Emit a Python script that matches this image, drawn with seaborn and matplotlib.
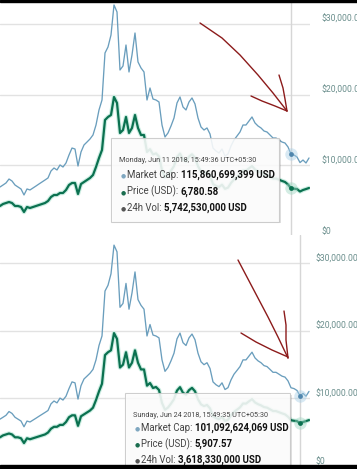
import pandas as pd
import matplotlib
matplotlib.use("Agg")
import matplotlib.pyplot as plt
import matplotlib.patheffects as pe
from matplotlib.patches import Rectangle
from matplotlib.lines import Line2D
import seaborn as sns

# data (same series, 3-day steps)
dates = pd.date_range("2017-08-24", periods=104, freq="3D")

market_cap_bn = [
    69.4, 72.2, 75.1, 80.7, 77.9, 72.2, 69.4, 66.6, 58.1, 66.6,
    65.2, 68.0, 70.8, 73.7, 76.5, 79.3, 82.2, 92.1, 96.3, 93.5,
    100.6, 97.7, 103.4, 114.7, 124.6, 123.2, 99.1, 119.0, 128.9, 133.1,
    137.4, 143.1, 157.2, 178.5, 192.6, 259.2, 267.7, 284.7, 327.2, 317.3,
    235.1, 240.8, 270.5, 232.3, 256.4, 287.5, 246.5, 238.0, 232.3, 192.6,
    209.6, 194.0, 192.6, 189.8, 157.2, 140.2, 145.9, 155.8, 167.1, 188.4,
    196.9, 182.7, 178.5, 189.8, 195.5, 187.0, 167.1, 154.4, 150.1, 153.0,
    144.5, 124.6, 120.4, 117.6, 123.2, 113.3, 116.1, 127.5, 136.0, 141.6,
    147.3, 157.2, 157.2, 162.9, 168.6, 160.1, 155.8, 153.0, 148.7, 147.3,
    143.1, 138.8, 138.8, 136.0, 133.1, 131.7, 126.1, 115.9, 114.7, 111.9,
    104.0, 107.6, 103.4, 110.5,
]

price_usd = [
    4249, 4532, 4674, 4816, 4674, 4249, 4249, 4107, 3399, 4107,
    3966, 4107, 4249, 4391, 4532, 4674, 4957, 5524, 5807, 5807,
    6091, 6091, 6515, 7224, 7507, 7507, 5949, 7365, 7649, 7932,
    8215, 8640, 9773, 11048, 12181, 16430, 16855, 17138, 19688, 18838,
    14589, 15014, 16855, 14589, 15297, 17138, 15297, 14305, 14305, 11900,
    12296, 11556, 11704, 11259, 9338, 8328, 8666, 9239, 9909, 11172,
    11676, 10834, 10567, 11236, 11574, 11070, 9892, 9125, 8871, 9042,
    8540, 7364, 7104, 6938, 7269, 6685, 6850, 7510, 8010, 8340,
    8676, 9259, 9243, 9579, 9914, 9414, 9161, 8981, 8729, 8647,
    8400, 8148, 8134, 7970, 7800, 7649, 7300, 6781, 6700, 6650,
    6300, 6515, 6650, 6800,
]

y_ticks = [0, 10000, 20000, 30000]
y_tick_labels = ["$0", "$10,000.00", "$20,000.00", "$30,000.00"]

tooltips = [
    {"idx": 97, "header": "Monday, Jun 11 2018, 15:49:36 UTC+05:30",
     "cap": "115,860,699,399 USD", "price": "6,780.58", "vol": "5,742,530,000 USD"},
    {"idx": 100, "header": "Sunday, Jun 24 2018, 15:49:35 UTC+05:30",
     "cap": "101,092,624,069 USD", "price": "5,907.57", "vol": "3,618,330,000 USD"},
]

df = pd.DataFrame({"date": dates, "market_cap": market_cap_bn, "price": price_usd})

sns.set_style("white")
plt.rcParams['font.family'] = ['Roboto', 'DejaVu Sans']

W, H = 357, 469
def fx(x):
    return x / W
def fy(y):
    return 1 - y / H

CAP_COLOR = "#6a9ebd"
PRICE_COLOR = "#0b7150"
LABEL_COLOR = "#6b8f8d"

fig = plt.figure(figsize=(W / 100, H / 100), dpi=100)

# panel layout in pixels: (top, bottom, ymax, label pad, tooltip box, text rows)
panels = [
    dict(top=2, bottom=236, ymax=33140, pad=8.6,
         box=(111, 138, 279, 222), hx=119, hy=162.5, bx=121, tx=127, rows=(177.5, 194.5, 210.5)),
    dict(top=235, bottom=466, ymax=34220, pad=4.3,
         box=(125, 393, 290, 485), hx=133, hy=417, bx=135, tx=141, rows=(430.5, 447, 463)),
]

texts_to_place = []
for p, tip in zip(panels, tooltips):
    ax = fig.add_axes([0, fy(p["bottom"]), 310 / W, (p["bottom"] - p["top"]) / H])
    ax2 = ax.twinx()

    sns.lineplot(data=df, x="date", y="price", ax=ax, color=PRICE_COLOR, lw=1.6,
                 path_effects=[pe.Stroke(linewidth=3.2, foreground="#cdeee3"), pe.Normal()])
    sns.lineplot(data=df, x="date", y="market_cap", ax=ax2, color=CAP_COLOR, lw=0.95)

    ax.set_xlim(dates[0], dates[0] + pd.Timedelta(days=310))
    ax.set_ylim(0, p["ymax"])
    ax2.set_ylim(0, p["ymax"] / 100)

    for t in y_ticks[1:]:
        ax.axhline(t, color="#e2e2e2", lw=1, zorder=0)

    i = tip["idx"]
    ax.axvline(dates[i], color="#d6d6d6", lw=1, zorder=0)
    ax.scatter([dates[i]], [price_usd[i]], s=80, color="#9fd6c2", alpha=0.45, lw=0, zorder=4)
    ax.scatter([dates[i]], [price_usd[i]], s=12, color=PRICE_COLOR, lw=0, zorder=5)
    ax2.scatter([dates[i]], [market_cap_bn[i]], s=80, color="#a9cfe6", alpha=0.45, lw=0, zorder=4)
    ax2.scatter([dates[i]], [market_cap_bn[i]], s=12, color="#4f86ad", lw=0, zorder=5)

    ax.set_xticks([])
    ax.set_xlabel("")
    ax.set_ylabel("")
    ax.set_yticks(y_ticks)
    ax.set_yticklabels(y_tick_labels)
    ax.yaxis.tick_right()
    ax.tick_params(axis="y", length=0, pad=p["pad"], labelsize=6.2, labelcolor=LABEL_COLOR)
    for lbl in ax.get_yticklabels():
        lbl.set_va("bottom")
    ax2.axis("off")
    sns.despine(ax=ax, left=True, bottom=True, right=True, top=True)

    # tooltip box
    x0, y0, x1, y1 = p["box"]
    fig.add_artist(Rectangle((fx(x0 + 1.5), fy(y1 + 1.5)), (x1 - x0) / W, (y1 - y0) / H,
                             transform=fig.transFigure, facecolor="#000000", alpha=0.12,
                             lw=0, zorder=9))
    fig.add_artist(Rectangle((fx(x0), fy(y1)), (x1 - x0) / W, (y1 - y0) / H,
                             transform=fig.transFigure, facecolor="white", alpha=0.88,
                             edgecolor="#c8c8c8", lw=0.8, zorder=10))
    fig.text(fx(p["hx"]), fy(p["hy"]), tip["header"], fontsize=5.2, color="#444444",
             va="baseline", zorder=11)
    rows = [("Market Cap: ", tip["cap"], "#7fa7c0"),
            ("Price (USD): ", tip["price"], "#1b6e50"),
            ("24h Vol: ", tip["vol"], "#555555")]
    for (label, value, dot), ry in zip(rows, p["rows"]):
        fig.text(fx(p["bx"]), fy(ry - 0.5), "\u25cf", fontsize=4.2, color=dot,
                 family="DejaVu Sans", va="baseline", zorder=11)
        t = fig.text(fx(p["tx"]), fy(ry), label, fontsize=6.9, color="#444444",
                     va="baseline", zorder=11)
        texts_to_place.append((t, value, ry))

# bold values placed right after their labels
renderer = fig.canvas.get_renderer()
for t, value, ry in texts_to_place:
    bb = t.get_window_extent(renderer)
    fig.text(bb.x1 / fig.bbox.width, fy(ry), value, fontsize=6.9, color="#111111",
             fontweight="bold", va="baseline", zorder=11)

# hand-drawn red arrows (pixel positions)
arrows = [
    [(200, 23), (222, 38), (240, 55), (258, 75), (273, 93), (287, 111)],
    [(251, 96), (262, 101), (275, 106), (287, 111)],
    [(279, 75), (283, 88), (285, 99), (287, 111)],
    [(238, 260), (248, 279), (258, 298), (268, 317), (278, 337), (288, 358)],
    [(241, 333), (256, 342), (272, 350), (288, 357)],
    [(284, 311), (286, 325), (286, 340), (288, 358)],
]
for pts in arrows:
    fig.add_artist(Line2D([fx(a) for a, b in pts], [fy(b) for a, b in pts],
                          transform=fig.transFigure, color="#8c1b1b", lw=1.0, zorder=12,
                          solid_capstyle="round"))

# black screen edges
fig.add_artist(Rectangle((0, fy(2)), 1, 2 / H, transform=fig.transFigure,
                         color="black", zorder=13))
fig.add_artist(Rectangle((0, 0), 1, 4 / H, transform=fig.transFigure,
                         color="black", zorder=13))

fig.savefig("out.png", dpi=100)
